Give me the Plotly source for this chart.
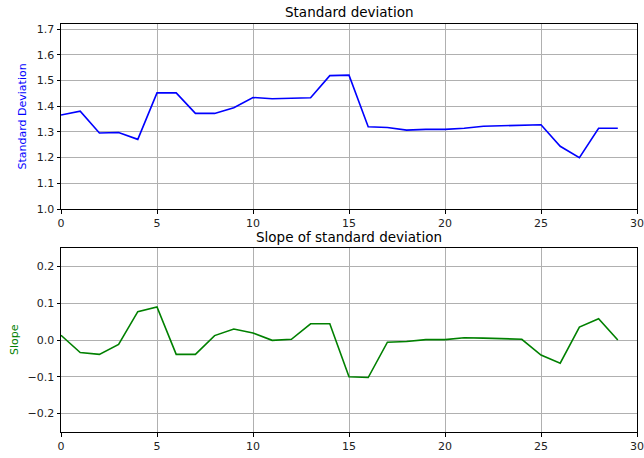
import plotly.graph_objects as go

x_index = list(range(30))
std_values = [1.366, 1.381, 1.296, 1.298, 1.271, 1.452, 1.452, 1.372, 1.372, 1.394,
              1.434, 1.429, 1.431, 1.433, 1.519, 1.521, 1.320, 1.317, 1.307, 1.310,
              1.310, 1.314, 1.322, 1.324, 1.328, 1.328, 1.244, 1.200, 1.314, 1.314]
slope_values = [0.013, -0.034, -0.039, -0.012, 0.077, 0.090, -0.039, -0.039, 0.012, 0.030,
                0.019, -0.001, 0.002, 0.044, 0.044, -0.100, -0.102, -0.006, -0.004, 0.001,
                0.001, 0.006, 0.005, 0.004, 0.002, -0.041, -0.063, 0.035, 0.058, 0.000]
std_ticks = [1.0, 1.1, 1.2, 1.3, 1.4, 1.5, 1.6, 1.7]
slope_ticks = [-0.2, -0.1, 0.0, 0.1, 0.2]
x_ticks = [0, 5, 10, 15, 20, 25, 30]

FONT = "DejaVu Sans"
GRID = "#b0b0b0"

fig = go.Figure()
fig.add_trace(go.Scatter(x=x_index, y=std_values, mode="lines",
                         line=dict(color="#0000ff", width=1.6), xaxis="x", yaxis="y",
                         showlegend=False))
fig.add_trace(go.Scatter(x=x_index, y=slope_values, mode="lines",
                         line=dict(color="#008000", width=1.6), xaxis="x2", yaxis="y2",
                         showlegend=False))

axis_common = dict(showline=True, linecolor="black", linewidth=1, mirror=True,
                   ticks="outside", ticklen=3.5, tickwidth=1, tickcolor="black",
                   showgrid=True, gridcolor=GRID, gridwidth=1, zeroline=False,
                   automargin=False,
                   tickfont=dict(family=FONT, size=11, color="#222222"))

top_dom = [(432 - 209) / 408, 1.0]
bot_dom = [0.0, (432 - 248) / 408]

fig.update_layout(
    width=644, height=458,
    margin=dict(l=61, r=7, t=24, b=26, autoexpand=False),
    paper_bgcolor="white", plot_bgcolor="white",
    font=dict(family=FONT, size=11, color="black"),
    xaxis=dict(domain=[0, 1], range=[0, 30], tickvals=x_ticks, anchor="y", **axis_common),
    yaxis=dict(domain=top_dom, range=[1.0, 1.72], tickvals=std_ticks, tickformat=".1f",
               anchor="x", **axis_common),
    xaxis2=dict(domain=[0, 1], range=[0, 30], tickvals=x_ticks, anchor="y2", **axis_common),
    yaxis2=dict(domain=bot_dom, range=[-0.25, 0.25], tickvals=slope_ticks, tickformat=".1f",
                anchor="x2", **axis_common),
    annotations=[
        dict(text="Standard deviation", xref="paper", yref="paper", x=0.5, y=top_dom[1],
             xanchor="center", yanchor="bottom", yshift=2, showarrow=False,
             font=dict(family=FONT, size=13.5, color="black")),
        dict(text="Slope of standard deviation", xref="paper", yref="paper", x=0.5, y=bot_dom[1],
             xanchor="center", yanchor="bottom", yshift=1, showarrow=False,
             font=dict(family=FONT, size=13.5, color="black")),
        dict(text="Standard Deviation", xref="paper", yref="paper", x=0,
             y=(top_dom[0] + top_dom[1]) / 2, xshift=-39, textangle=-90,
             xanchor="center", yanchor="middle", showarrow=False,
             font=dict(family=FONT, size=11, color="#0000ff")),
        dict(text="Slope", xref="paper", yref="paper", x=0,
             y=(bot_dom[0] + bot_dom[1]) / 2, xshift=-47, textangle=-90,
             xanchor="center", yanchor="middle", showarrow=False,
             font=dict(family=FONT, size=11, color="#008000")),
        dict(text="Index", xref="paper", yref="paper", x=0.5, y=0,
             xanchor="center", yanchor="top", yshift=-23, showarrow=False,
             font=dict(family=FONT, size=11, color="black")),
    ],
)

fig.write_html("out.html", config={"displayModeBar": False},
               post_script="document.body.style.margin='0';document.body.style.overflow='hidden';")
